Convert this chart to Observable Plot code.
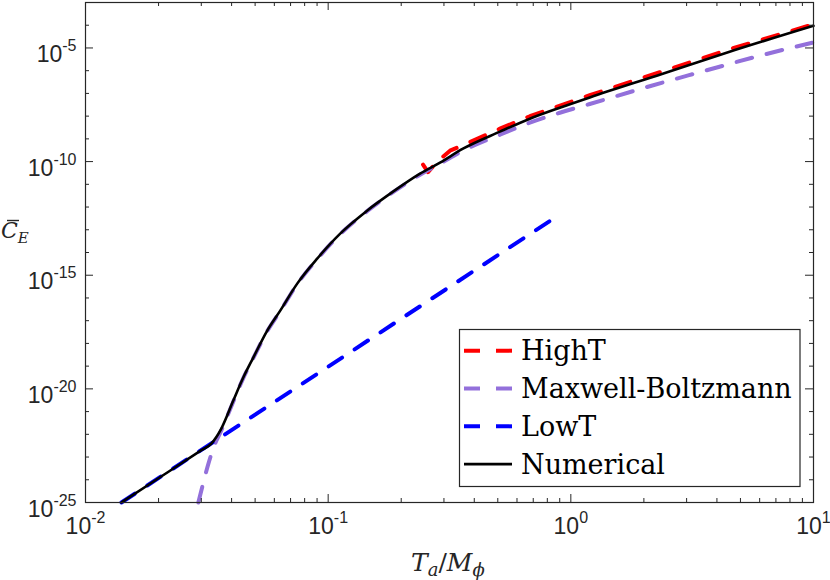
<!DOCTYPE html>
<html><head><meta charset="utf-8">
<script src="https://cdn.jsdelivr.net/npm/d3@7"></script>
<script src="https://cdn.jsdelivr.net/npm/@observablehq/plot@0.6"></script>
<style>
body{margin:0;background:#fff;}
#wrap{position:relative;width:830px;height:580px;}
#overlay{position:absolute;left:0;top:0;pointer-events:none;}
</style>
</head><body><div id="wrap"></div>
<script>
// ---- data ----
const xMajorTicks = [0.01, 0.1, 1, 10];
const xMinorTicks = [0.02,0.03,0.04,0.05,0.06,0.07,0.08,0.09,
                     0.2,0.3,0.4,0.5,0.6,0.7,0.8,0.9,
                     2,3,4,5,6,7,8,9];
const yMajorTicks = [1e-25, 1e-20, 1e-15, 1e-10, 1e-5];
const yMinorTicks = [1e-24,1e-23,1e-22,1e-21,1e-19,1e-18,1e-17,1e-16,
                     1e-14,1e-13,1e-12,1e-11,1e-9,1e-8,1e-7,1e-6,1e-4];

const seriesNames  = ["HighT", "Maxwell-Boltzmann", "LowT", "Numerical"];
const seriesColors = ["#FF0000", "#9370DB", "#0000FF", "#000000"];

const highTX = [0.2460, 0.2579, 0.2810, 0.3178, 0.3594, 0.5103, 0.6781, 1.197, 2.391, 4.511, 10];
const highTY = [7.31e-11, 3.42e-11, 9.9e-11, 3.01e-10, 5.26e-10, 2.80e-9, 9.91e-9, 8.32e-8, 9.44e-7, 8.75e-6, 1.10e-4];

const mbX = [0.02917, 0.0306, 0.03177, 0.03396, 0.03628, 0.04066, 0.04469, 0.04914, 0.0561, 0.06346,
             0.07455, 0.09009, 0.1121, 0.1447, 0.1851, 0.2391, 0.2890, 0.3594, 0.5103, 0.6781,
             0.9009, 1.197, 2.114, 3.396, 5.995, 10];
const mbY = [1e-25, 7.58e-25, 3.46e-24, 3.21e-23, 1.47e-22, 2.77e-21, 2.99e-20, 2.26e-19, 3.48e-18, 2.64e-17,
             4.06e-16, 5.11e-15, 6.41e-14, 6.59e-13, 4.51e-12, 2.65e-11, 8.09e-11, 3.01e-10, 1.52e-9, 5.14e-9,
             1.41e-8, 3.41e-8, 2.07e-7, 8.53e-7, 4.54e-6, 1.75e-5];

const lowTX = [0.01406, 0.845];
const lowTY = [1e-25, 3.0e-13];

const numX = [0.01406, 0.02035, 0.02973, 0.0330, 0.03628, 0.04066, 0.04469, 0.04914, 0.0561, 0.06346,
              0.07455, 0.09009, 0.1121, 0.1447, 0.1851, 0.2391, 0.2890, 0.3594, 0.5103, 0.6781,
              0.9009, 1.197, 2.391, 4.511, 10];
const numY = [1e-25, 1.32e-24, 1.88e-23, 3.93e-23, 1.80e-22, 3.06e-21, 3.14e-20, 2.38e-19, 3.66e-18, 2.78e-17,
              4.27e-16, 5.37e-15, 6.75e-14, 6.93e-13, 4.74e-12, 2.94e-11, 8.95e-11, 3.69e-10, 2.07e-9, 7.71e-9,
              2.34e-8, 6.65e-8, 7.33e-7, 6.81e-6, 9.46e-5];

// ---- drawing ----
const W = 830, H = 580, mL = 85, mR = 17, mT = 2, mB = 78;
const innerW = W - mL - mR, innerH = H - mT - mB;
const ink = "#262626";
const rows = (xs, ys) => xs.map((x, i) => ({x, y: ys[i]}));
const expFmt = d => "10^" + Math.round(Math.log10(d));
const dash = "16,15";
const dashW = 4, solidW = 2.6;
const serif = "DejaVu Serif";

const plot = Plot.plot({
  width: W, height: H,
  marginLeft: mL, marginRight: mR, marginTop: mT, marginBottom: mB,
  x: {type: "log", domain: [0.01, 10]},
  y: {type: "log", domain: [1e-25, 1e-3]},
  style: {background: "#fff", fontFamily: "'Liberation Sans', Arial, sans-serif", color: ink},
  marks: [
    Plot.line(rows(highTX, highTY), {x: "x", y: "y", stroke: seriesColors[0], strokeWidth: dashW, strokeDasharray: dash}),
    Plot.line(rows(mbX, mbY), {x: "x", y: "y", stroke: seriesColors[1], strokeWidth: dashW, strokeDasharray: dash, curve: "monotone-x"}),
    Plot.line(rows(lowTX, lowTY), {x: "x", y: "y", stroke: seriesColors[2], strokeWidth: dashW, strokeDasharray: dash}),
    Plot.line(rows(numX, numY), {x: "x", y: "y", stroke: seriesColors[3], strokeWidth: solidW, curve: "monotone-x"}),
    // inward ticks on all four sides
    Plot.tickX(xMajorTicks, {x: d => d, stroke: ink, insetTop: innerH - 8}),
    Plot.tickX(xMajorTicks, {x: d => d, stroke: ink, insetBottom: innerH - 8}),
    Plot.tickX(xMinorTicks, {x: d => d, stroke: ink, insetTop: innerH - 4}),
    Plot.tickX(xMinorTicks, {x: d => d, stroke: ink, insetBottom: innerH - 4}),
    Plot.tickY(yMajorTicks, {y: d => d, stroke: ink, insetRight: innerW - 8}),
    Plot.tickY(yMajorTicks, {y: d => d, stroke: ink, insetLeft: innerW - 8}),
    Plot.tickY(yMinorTicks, {y: d => d, stroke: ink, insetRight: innerW - 4}),
    Plot.tickY(yMinorTicks, {y: d => d, stroke: ink, insetLeft: innerW - 4}),
    Plot.axisX({ticks: xMajorTicks, tickSize: 0, tickPadding: 0, tickFormat: expFmt, fontSize: 23, fill: ink, label: null}),
    Plot.axisY({ticks: yMajorTicks, tickSize: 0, tickPadding: 9, tickFormat: expFmt, fontSize: 23, fill: ink, label: null}),
    Plot.frame({stroke: ink, strokeWidth: 1.2})
  ]
});

// superscript exponents in tick labels
function supLabels(sel, baseY) {
  plot.querySelectorAll(sel).forEach(t => {
    const [b, e] = t.textContent.split("^");
    t.setAttribute("y", baseY);
    t.removeAttribute("dy");
    t.textContent = "";
    const ns = "http://www.w3.org/2000/svg";
    const s1 = document.createElementNS(ns, "tspan"); s1.textContent = b; t.appendChild(s1);
    const s2 = document.createElementNS(ns, "tspan"); s2.textContent = e;
    s2.setAttribute("dy", "-11"); s2.setAttribute("font-size", "16"); t.appendChild(s2);
  });
}
supLabels('g[aria-label="x-axis tick label"] text', 31);
supLabels('g[aria-label="y-axis tick label"] text', 14);

const wrap = document.getElementById("wrap");
wrap.appendChild(plot);

// overlay: axis titles and legend
const svg = d3.select(wrap).append("svg").attr("id", "overlay").attr("width", W).attr("height", H);

// y title  C̄_E
const yt = svg.append("text").attr("x", 1).attr("y", 238).attr("font-family", serif)
  .attr("font-style", "italic").attr("font-size", 22).attr("fill", ink);
yt.append("tspan").text("C");
yt.append("tspan").attr("font-size", 15).attr("dy", 5).text("E");
svg.append("line").attr("x1", 7).attr("x2", 19).attr("y1", 220.5).attr("y2", 220.5)
  .attr("stroke", ink).attr("stroke-width", 1.4);

// x title  T_a / M_phi
const xt = svg.append("text").attr("x", 411).attr("y", 571).attr("font-family", serif)
  .attr("font-size", 25).attr("fill", ink);
xt.append("tspan").attr("font-style", "italic").text("T");
xt.append("tspan").attr("font-style", "italic").attr("font-size", 18).attr("dy", 5).text("a");
xt.append("tspan").attr("dy", -5).text("/");
xt.append("tspan").attr("font-style", "italic").text("M");
xt.append("tspan").attr("font-style", "italic").attr("font-size", 18).attr("dy", 5).text("ϕ");

// legend
const lg = svg.append("g");
lg.append("rect").attr("x", 459.5).attr("y", 329.5).attr("width", 340.5).attr("height", 157)
  .attr("fill", "#fff").attr("stroke", ink).attr("stroke-width", 1.2);
seriesNames.forEach((name, i) => {
  const ly = 350.7 + 37.8 * i;
  const solid = i === 3;
  lg.append("line").attr("x1", 464).attr("x2", 512).attr("y1", ly).attr("y2", ly)
    .attr("stroke", seriesColors[i]).attr("stroke-width", solid ? solidW : dashW)
    .attr("stroke-dasharray", solid ? null : "16,16");
  lg.append("text").attr("x", 521).attr("y", ly + 9.5).attr("font-family", serif)
    .attr("font-size", 27).attr("fill", "#000").text(name);
});
</script>
</body></html>
